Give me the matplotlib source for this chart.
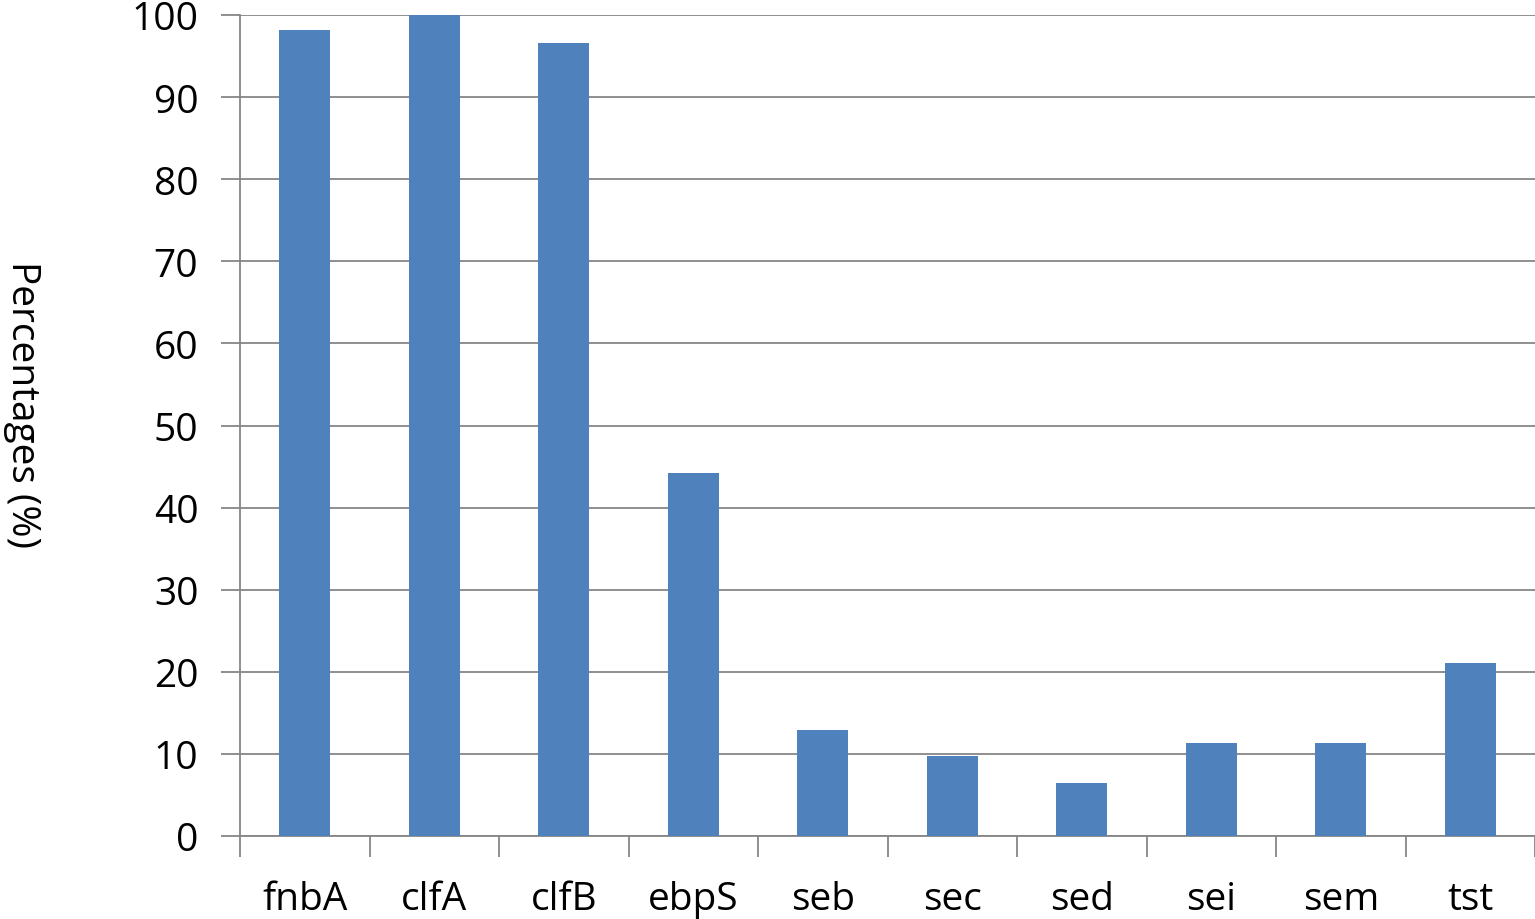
import matplotlib
matplotlib.use("Agg")
import matplotlib.pyplot as plt
import numpy as np

categories = ["fnbA", "clfA", "clfB", "ebpS", "seb", "sec", "sed", "sei", "sem", "tst"]
values = [98.2, 100.0, 96.6, 44.2, 12.9, 9.7, 6.5, 11.3, 11.3, 21.1]
yticks = [0, 10, 20, 30, 40, 50, 60, 70, 80, 90, 100]

plt.rcParams['font.family'] = ['Open Sans', 'DejaVu Sans']

fig = plt.figure(figsize=(15.35, 9.2), dpi=100)
ax = fig.add_axes([240/1535, 83/920, 1295/1535, 821/920])

x = np.arange(len(categories))
ax.bar(x, values, width=0.39, color='#4F81BD', zorder=3)

ax.set_xlim(-0.5, len(categories) - 0.5)
ax.set_ylim(0, 100)
ax.set_yticks(yticks)
ax.set_yticklabels([str(t) for t in yticks], fontsize=28)
ax.yaxis.grid(True, color='#868686', linewidth=1.3, zorder=0)
ax.set_axisbelow(True)

# category boundary ticks
ax.set_xticks(np.arange(len(categories) + 1) - 0.5)
ax.set_xticklabels([])
ax.set_xticks(x, minor=True)
ax.set_xticklabels(categories, minor=True, fontsize=28)
ax.tick_params(axis='x', which='major', length=15, width=1.3, color='#868686', direction='out')
ax.tick_params(axis='x', which='minor', length=0, pad=32)
ax.tick_params(axis='y', length=14, width=1.3, color='#868686', pad=16)

for s in ['top', 'right']:
    ax.spines[s].set_visible(False)
for s in ['left', 'bottom']:
    ax.spines[s].set_color('#868686')
    ax.spines[s].set_linewidth(1.3)

ax.set_ylabel("Percentages (%)", fontsize=28, rotation=270, labelpad=0,
              va='center', ha='center')
ax.yaxis.set_label_coords(-0.168, 0.527)

fig.savefig("out.png", dpi=100)
